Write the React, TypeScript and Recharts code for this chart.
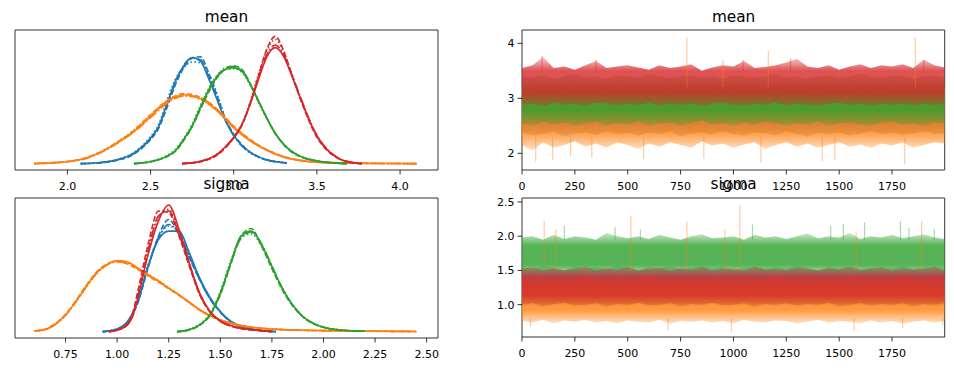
import React from "react";
import { LineChart, ComposedChart, Line, Area, XAxis, YAxis, CartesianGrid } from "recharts";

const FONT = "'DejaVu Sans', Verdana, sans-serif";
const BLUE = "#1f77b4";
const ORANGE = "#ff7f0e";
const GREEN = "#2ca02c";
const RED = "#d62728";

// solid, dashed, dotted, dash-dot (one per chain)
const CHAIN_DASH = [undefined, "5.5 2.4", "1.5 2.5", "9.6 2.4 1.5 2.4"];

// ---------- tick labels ----------
const meanXTicks = [2.0, 2.5, 3.0, 3.5, 4.0];
const sigmaXTicks = [0.75, 1.0, 1.25, 1.5, 1.75, 2.0, 2.25, 2.5];
const drawTicks = [0, 250, 500, 750, 1000, 1250, 1500, 1750];
const meanTraceTicks = [2, 3, 4];
const sigmaTraceTicks = [1.0, 1.5, 2.0, 2.5];

// ---------- KDE: mean ----------
const blueMeanX = [2.08, 2.2, 2.3, 2.4, 2.45, 2.5, 2.55, 2.6, 2.65, 2.7, 2.75, 2.8, 2.85, 2.9, 2.95, 3.0, 3.05, 3.1, 3.15, 3.2, 3.32];
const blueMeanKde = [
  [0, 0.03, 0.1, 0.28, 0.45, 0.68, 1.0, 1.6, 2.2, 2.6, 2.82, 2.72, 2.25, 1.7, 1.15, 0.75, 0.48, 0.3, 0.18, 0.1, 0.02],
  [0, 0.02, 0.09, 0.25, 0.42, 0.64, 0.95, 1.5, 2.1, 2.55, 2.8, 2.84, 2.4, 1.8, 1.2, 0.78, 0.5, 0.3, 0.17, 0.09, 0.02],
  [0, 0.03, 0.11, 0.3, 0.48, 0.72, 1.05, 1.7, 2.25, 2.55, 2.7, 2.68, 2.4, 1.85, 1.2, 0.78, 0.46, 0.28, 0.17, 0.1, 0.02],
  [0, 0.03, 0.1, 0.27, 0.44, 0.66, 1.0, 1.6, 2.15, 2.62, 2.8, 2.76, 2.3, 1.72, 1.15, 0.74, 0.47, 0.3, 0.18, 0.1, 0.02],
];
const orangeMeanX = [1.8, 1.9, 2.0, 2.1, 2.2, 2.3, 2.4, 2.5, 2.6, 2.7, 2.8, 2.9, 3.0, 3.1, 3.2, 3.3, 3.4, 3.5, 3.7, 3.9, 4.1];
const orangeMeanKde = [
  [0, 0.02, 0.05, 0.13, 0.3, 0.55, 0.85, 1.25, 1.65, 1.83, 1.72, 1.4, 0.95, 0.6, 0.35, 0.17, 0.08, 0.04, 0.01, 0.005, 0],
  [0, 0.02, 0.06, 0.14, 0.31, 0.57, 0.88, 1.3, 1.68, 1.86, 1.76, 1.45, 1.0, 0.64, 0.37, 0.19, 0.09, 0.04, 0.01, 0.005, 0],
  [0.01, 0.02, 0.05, 0.14, 0.32, 0.58, 0.9, 1.3, 1.66, 1.8, 1.7, 1.42, 0.98, 0.62, 0.36, 0.18, 0.08, 0.04, 0.01, 0.005, 0],
  [0, 0.02, 0.05, 0.12, 0.29, 0.54, 0.84, 1.22, 1.6, 1.8, 1.74, 1.44, 0.98, 0.62, 0.36, 0.18, 0.09, 0.05, 0.02, 0.005, 0],
];
const greenMeanX = [2.4, 2.5, 2.6, 2.65, 2.7, 2.75, 2.8, 2.85, 2.9, 2.95, 3.0, 3.05, 3.1, 3.15, 3.2, 3.25, 3.3, 3.35, 3.4, 3.5, 3.6, 3.68];
const greenMeanKde = [
  [0, 0.05, 0.2, 0.35, 0.65, 1.0, 1.5, 1.95, 2.3, 2.5, 2.55, 2.45, 2.1, 1.65, 1.2, 0.8, 0.52, 0.32, 0.2, 0.07, 0.02, 0],
  [0, 0.05, 0.19, 0.33, 0.62, 0.98, 1.45, 1.9, 2.28, 2.52, 2.6, 2.5, 2.12, 1.66, 1.2, 0.8, 0.5, 0.3, 0.18, 0.07, 0.02, 0],
  [0.01, 0.06, 0.22, 0.38, 0.68, 1.05, 1.55, 2.0, 2.35, 2.5, 2.52, 2.42, 2.08, 1.62, 1.18, 0.8, 0.52, 0.33, 0.2, 0.08, 0.02, 0],
  [0, 0.05, 0.2, 0.35, 0.64, 0.99, 1.48, 1.96, 2.32, 2.55, 2.58, 2.47, 2.1, 1.64, 1.2, 0.8, 0.51, 0.32, 0.19, 0.07, 0.02, 0],
];
const redMeanX = [2.69, 2.8, 2.9, 2.95, 3.0, 3.05, 3.1, 3.15, 3.2, 3.25, 3.3, 3.35, 3.4, 3.45, 3.5, 3.55, 3.6, 3.65, 3.7, 3.77];
const redMeanKde = [
  [0, 0.06, 0.25, 0.45, 0.7, 1.05, 1.6, 2.25, 2.85, 3.08, 2.85, 2.32, 1.75, 1.2, 0.74, 0.43, 0.23, 0.1, 0.04, 0],
  [0, 0.05, 0.23, 0.42, 0.68, 1.02, 1.62, 2.35, 3.05, 3.38, 3.0, 2.35, 1.72, 1.16, 0.7, 0.4, 0.21, 0.09, 0.03, 0],
  [0, 0.06, 0.25, 0.44, 0.7, 1.06, 1.66, 2.4, 3.0, 3.3, 2.95, 2.38, 1.76, 1.2, 0.72, 0.42, 0.22, 0.1, 0.04, 0],
  [0, 0.06, 0.24, 0.44, 0.69, 1.04, 1.6, 2.3, 2.9, 3.15, 2.9, 2.36, 1.78, 1.22, 0.75, 0.44, 0.23, 0.1, 0.04, 0],
];

// ---------- KDE: sigma ----------
const blueSigmaX = [0.93, 1.0, 1.05, 1.1, 1.15, 1.2, 1.25, 1.3, 1.35, 1.4, 1.45, 1.5, 1.55, 1.6, 1.65, 1.7, 1.77];
const blueSigmaKde = [
  [0, 0.08, 0.3, 0.9, 1.95, 2.75, 3.0, 3.0, 2.35, 1.6, 1.02, 0.6, 0.31, 0.16, 0.08, 0.03, 0],
  [0, 0.07, 0.27, 0.85, 1.9, 2.85, 3.35, 2.88, 2.2, 1.55, 0.98, 0.58, 0.3, 0.15, 0.08, 0.03, 0],
  [0, 0.08, 0.3, 0.92, 2.0, 2.8, 3.15, 2.98, 2.25, 1.57, 1.0, 0.6, 0.31, 0.16, 0.08, 0.03, 0],
  [0, 0.08, 0.29, 0.88, 1.95, 2.8, 3.2, 2.92, 2.25, 1.55, 0.98, 0.58, 0.3, 0.15, 0.08, 0.03, 0],
];
const orangeSigmaX = [0.6, 0.65, 0.7, 0.75, 0.8, 0.85, 0.9, 0.95, 1.0, 1.05, 1.1, 1.15, 1.2, 1.25, 1.3, 1.35, 1.4, 1.45, 1.5, 1.6, 1.7, 1.8, 1.9, 2.0, 2.2, 2.45];
const orangeSigmaKde = [
  [0.02, 0.06, 0.22, 0.5, 0.9, 1.35, 1.75, 2.0, 2.12, 2.08, 1.9, 1.7, 1.52, 1.3, 1.1, 0.88, 0.65, 0.48, 0.35, 0.18, 0.1, 0.06, 0.04, 0.03, 0.015, 0.005],
  [0.02, 0.07, 0.24, 0.52, 0.93, 1.38, 1.78, 2.02, 2.1, 2.02, 1.85, 1.66, 1.48, 1.28, 1.08, 0.86, 0.64, 0.47, 0.34, 0.18, 0.1, 0.06, 0.04, 0.03, 0.015, 0.005],
  [0.02, 0.06, 0.22, 0.48, 0.88, 1.32, 1.72, 1.98, 2.1, 2.06, 1.9, 1.72, 1.53, 1.32, 1.1, 0.88, 0.66, 0.49, 0.36, 0.19, 0.1, 0.06, 0.04, 0.03, 0.015, 0.005],
  [0.02, 0.06, 0.21, 0.49, 0.89, 1.33, 1.74, 1.99, 2.08, 2.04, 1.88, 1.68, 1.5, 1.3, 1.1, 0.87, 0.65, 0.48, 0.35, 0.18, 0.1, 0.06, 0.04, 0.03, 0.015, 0.005],
];
const greenSigmaX = [1.29, 1.35, 1.4, 1.45, 1.5, 1.55, 1.6, 1.65, 1.7, 1.75, 1.8, 1.85, 1.9, 1.95, 2.0, 2.1, 2.2];
const greenSigmaKde = [
  [0, 0.06, 0.2, 0.5, 1.15, 2.05, 2.85, 3.0, 2.6, 1.95, 1.3, 0.8, 0.45, 0.25, 0.13, 0.04, 0.01],
  [0, 0.05, 0.19, 0.48, 1.1, 2.0, 2.85, 3.08, 2.55, 1.88, 1.25, 0.77, 0.44, 0.24, 0.13, 0.04, 0.01],
  [0, 0.07, 0.22, 0.54, 1.2, 2.1, 2.8, 2.92, 2.55, 1.92, 1.3, 0.8, 0.46, 0.25, 0.13, 0.04, 0.01],
  [0, 0.06, 0.2, 0.5, 1.14, 2.02, 2.78, 2.98, 2.62, 1.96, 1.3, 0.8, 0.45, 0.25, 0.13, 0.04, 0.01],
];
const redSigmaX = [0.96, 1.0, 1.05, 1.075, 1.1, 1.15, 1.2, 1.25, 1.3, 1.35, 1.4, 1.45, 1.5, 1.55, 1.6, 1.7, 1.75];
const redSigmaKde = [
  [0, 0.04, 0.2, 0.45, 1.0, 2.3, 3.3, 3.78, 3.05, 2.05, 1.15, 0.6, 0.32, 0.18, 0.1, 0.03, 0],
  [0, 0.05, 0.24, 0.55, 1.2, 2.6, 3.6, 3.55, 2.85, 1.95, 1.1, 0.58, 0.31, 0.17, 0.09, 0.03, 0],
  [0, 0.04, 0.22, 0.5, 1.1, 2.45, 3.4, 3.65, 2.95, 2.0, 1.12, 0.6, 0.32, 0.18, 0.1, 0.03, 0],
  [0, 0.04, 0.21, 0.48, 1.05, 2.4, 3.45, 3.6, 2.9, 2.0, 1.13, 0.6, 0.31, 0.17, 0.1, 0.03, 0],
];

// ---------- traces: envelope of the draws every 50 draws ----------
const draws = [
  0, 50, 100, 150, 200, 250, 300, 350, 400, 450,
  500, 550, 600, 650, 700, 750, 800, 850, 900, 950,
  1000, 1050, 1100, 1150, 1200, 1250, 1300, 1350, 1400, 1450,
  1500, 1550, 1600, 1650, 1700, 1750, 1800, 1850, 1900, 1950, 1999,
];

const blueMeanHi = [
  3.15, 3.12, 3.18, 3.15, 3.1, 3.16, 3.14, 3.18, 3.12, 3.15,
  3.17, 3.13, 3.15, 3.18, 3.12, 3.15, 3.14, 3.16, 3.12, 3.15,
  3.18, 3.13, 3.15, 3.16, 3.12, 3.15, 3.17, 3.14, 3.12, 3.16,
  3.15, 3.13, 3.18, 3.15, 3.12, 3.16, 3.14, 3.15, 3.17, 3.13, 3.15,
];
const blueMeanLo = [
  2.38, 2.32, 2.35, 2.4, 2.3, 2.36, 2.38, 2.33, 2.4, 2.35,
  2.37, 2.32, 2.38, 2.35, 2.4, 2.3, 2.36, 2.38, 2.34, 2.4,
  2.35, 2.32, 2.38, 2.36, 2.33, 2.4, 2.35, 2.3, 2.37, 2.35,
  2.38, 2.32, 2.36, 2.4, 2.35, 2.38, 2.33, 2.36, 2.4, 2.35, 2.37,
];
const orangeMeanHi = [
  3.25, 3.2, 3.3, 3.22, 3.25, 3.2, 3.28, 3.22, 3.25, 3.2,
  3.24, 3.3, 3.22, 3.25, 3.2, 3.26, 3.22, 3.25, 3.3, 3.2,
  3.24, 3.22, 3.26, 3.2, 3.25, 3.22, 3.28, 3.2, 3.25, 3.22,
  3.24, 3.2, 3.26, 3.22, 3.25, 3.2, 3.24, 3.28, 3.22, 3.25, 3.2,
];
const orangeMeanLo = [
  2.15, 2.05, 2.2, 2.1, 2.15, 2.22, 2.12, 2.18, 2.1, 2.2,
  2.15, 2.08, 2.18, 2.12, 2.2, 2.15, 2.1, 2.22, 2.14, 2.18,
  2.1, 2.16, 2.2, 2.08, 2.15, 2.2, 2.12, 2.18, 2.1, 2.15,
  2.2, 2.12, 2.16, 2.1, 2.18, 2.14, 2.2, 2.1, 2.15, 2.2, 2.18,
];
const greenMeanHi = [
  3.4, 3.38, 3.42, 3.36, 3.4, 3.45, 3.38, 3.4, 3.36, 3.42,
  3.4, 3.38, 3.44, 3.4, 3.37, 3.4, 3.42, 3.38, 3.4, 3.36,
  3.42, 3.4, 3.38, 3.4, 3.44, 3.38, 3.4, 3.36, 3.4, 3.42,
  3.38, 3.4, 3.45, 3.4, 3.38, 3.42, 3.4, 3.36, 3.4, 3.42, 3.38,
];
const greenMeanLo = [
  2.55, 2.5, 2.58, 2.52, 2.56, 2.5, 2.54, 2.58, 2.5, 2.55,
  2.52, 2.58, 2.5, 2.54, 2.56, 2.5, 2.55, 2.6, 2.52, 2.55,
  2.5, 2.56, 2.52, 2.58, 2.54, 2.5, 2.55, 2.52, 2.58, 2.5,
  2.54, 2.56, 2.52, 2.5, 2.55, 2.58, 2.52, 2.54, 2.5, 2.56, 2.55,
];
const redMeanHi = [
  3.55, 3.6, 3.75, 3.55, 3.58, 3.52, 3.6, 3.68, 3.55, 3.58,
  3.6, 3.56, 3.52, 3.6, 3.55, 3.58, 3.62, 3.5, 3.56, 3.6,
  3.58, 3.68, 3.55, 3.57, 3.6, 3.65, 3.72, 3.58, 3.55, 3.6,
  3.52, 3.58, 3.62, 3.55, 3.6, 3.58, 3.62, 3.55, 3.7, 3.6, 3.56,
];
const redMeanLo = [
  2.88, 2.9, 2.85, 2.92, 2.88, 2.9, 2.86, 2.92, 2.9, 2.87,
  2.9, 2.88, 2.92, 2.86, 2.9, 2.88, 2.9, 2.85, 2.9, 2.92,
  2.88, 2.86, 2.9, 2.88, 2.92, 2.87, 2.9, 2.88, 2.86, 2.9,
  2.92, 2.88, 2.9, 2.86, 2.9, 2.88, 2.9, 2.87, 2.9, 2.88, 2.9,
];

const blueSigmaHi = [
  1.55, 1.52, 1.57, 1.54, 1.5, 1.56, 1.53, 1.55, 1.52, 1.57,
  1.54, 1.5, 1.55, 1.53, 1.56, 1.52, 1.54, 1.57, 1.53, 1.55,
  1.5, 1.54, 1.56, 1.52, 1.55, 1.53, 1.57, 1.54, 1.5, 1.55,
  1.53, 1.56, 1.52, 1.54, 1.55, 1.53, 1.57, 1.52, 1.54, 1.56, 1.53,
];
const blueSigmaLo = [
  0.98, 1.0, 0.96, 0.99, 1.01, 0.97, 0.98, 1.0, 0.96, 0.99,
  0.98, 1.01, 0.97, 0.98, 1.0, 0.96, 0.99, 0.98, 1.01, 0.97,
  0.98, 1.0, 0.96, 0.99, 0.98, 1.0, 0.97, 0.99, 0.98, 1.01,
  0.96, 0.98, 1.0, 0.97, 0.99, 0.98, 1.0, 0.96, 0.99, 0.98, 1.0,
];
const orangeSigmaHi = [
  1.4, 1.38, 1.42, 1.36, 1.4, 1.38, 1.45, 1.4, 1.36, 1.42,
  1.38, 1.4, 1.44, 1.37, 1.4, 1.38, 1.42, 1.36, 1.4, 1.38,
  1.42, 1.4, 1.36, 1.38, 1.44, 1.4, 1.38, 1.42, 1.36, 1.4,
  1.38, 1.4, 1.42, 1.37, 1.4, 1.38, 1.44, 1.4, 1.38, 1.42, 1.4,
];
const orangeSigmaLo = [
  0.76, 0.74, 0.78, 0.73, 0.77, 0.75, 0.78, 0.74, 0.76, 0.73,
  0.77, 0.75, 0.74, 0.78, 0.72, 0.76, 0.75, 0.77, 0.74, 0.76,
  0.73, 0.78, 0.75, 0.74, 0.77, 0.76, 0.73, 0.75, 0.78, 0.74,
  0.76, 0.75, 0.73, 0.77, 0.74, 0.76, 0.72, 0.75, 0.77, 0.74, 0.76,
];
const greenSigmaHi = [
  1.98, 2.0, 1.95, 2.02, 1.96, 2.0, 1.98, 1.95, 2.05, 2.0,
  1.97, 2.0, 1.96, 2.02, 1.98, 1.95, 2.0, 2.03, 1.97, 1.98,
  2.0, 1.95, 2.02, 1.98, 2.0, 1.96, 2.0, 2.04, 1.97, 2.0,
  1.98, 2.05, 1.96, 2.0, 1.98, 2.02, 1.97, 2.0, 2.03, 1.98, 1.96,
];
const greenSigmaLo = [
  1.42, 1.4, 1.44, 1.41, 1.43, 1.4, 1.42, 1.44, 1.4, 1.43,
  1.41, 1.42, 1.44, 1.4, 1.42, 1.43, 1.41, 1.4, 1.44, 1.42,
  1.41, 1.43, 1.4, 1.42, 1.44, 1.41, 1.42, 1.4, 1.43, 1.42,
  1.41, 1.44, 1.4, 1.42, 1.43, 1.41, 1.42, 1.4, 1.44, 1.42, 1.41,
];
const redSigmaHi = [
  1.52, 1.55, 1.5, 1.53, 1.5, 1.52, 1.56, 1.5, 1.53, 1.51,
  1.55, 1.5, 1.52, 1.54, 1.5, 1.53, 1.51, 1.55, 1.5, 1.52,
  1.53, 1.5, 1.55, 1.51, 1.52, 1.5, 1.54, 1.52, 1.5, 1.53,
  1.51, 1.55, 1.5, 1.52, 1.54, 1.5, 1.53, 1.51, 1.52, 1.55, 1.5,
];
const redSigmaLo = [
  1.0, 1.02, 0.98, 1.01, 1.03, 0.99, 1.0, 1.02, 0.98, 1.01,
  1.0, 1.03, 0.99, 1.0, 1.02, 0.98, 1.01, 1.0, 1.03, 0.99,
  1.0, 1.02, 0.98, 1.01, 1.0, 1.02, 0.99, 1.01, 1.0, 1.03,
  0.98, 1.0, 1.02, 0.99, 1.01, 1.0, 1.02, 0.98, 1.01, 1.0, 1.02,
];

// ---------- isolated outlying draws (spikes) ----------
const orangeMeanSpikeT = [65, 145, 230, 330, 575, 780, 860, 950, 1130, 1165, 1420, 1480, 1810, 1860];
const orangeMeanSpikeFrom = [2.3, 2.3, 2.3, 2.3, 2.3, 3.2, 2.3, 3.2, 2.3, 3.2, 2.3, 2.3, 2.3, 3.2];
const orangeMeanSpikeTo = [1.85, 1.88, 1.95, 1.92, 1.9, 4.1, 1.9, 3.7, 1.83, 3.87, 1.86, 1.88, 1.8, 4.1];
const redMeanSpikeT = [95, 350, 1045, 1270, 1900];
const redMeanSpikeFrom = [3.5, 3.5, 3.5, 3.5, 3.5];
const redMeanSpikeTo = [3.77, 3.7, 3.7, 3.72, 3.7];

const orangeSigmaSpikeT = [40, 105, 160, 515, 690, 780, 960, 990, 1030, 1570, 1580, 1800, 1890, 1990];
const orangeSigmaSpikeFrom = [0.8, 1.5, 1.5, 1.5, 0.8, 1.5, 1.5, 0.8, 1.5, 0.8, 1.5, 0.8, 1.5, 0.8];
const orangeSigmaSpikeTo = [0.68, 2.22, 2.1, 2.3, 0.63, 2.22, 2.1, 0.6, 2.45, 0.62, 2.07, 0.66, 2.22, 0.7];
const greenSigmaSpikeT = [200, 440, 560, 1090, 1460, 1520, 1620, 1790, 1830, 1950];
const greenSigmaSpikeFrom = [1.95, 1.95, 1.95, 1.95, 1.95, 1.95, 1.95, 1.95, 1.95, 1.95];
const greenSigmaSpikeTo = [2.15, 2.13, 2.1, 2.17, 2.15, 2.18, 2.2, 2.22, 2.12, 2.1];

// ---------- helpers ----------
type Kde = { color: string; xs: number[]; chains: number[][] };
type Band = { key: string; color: string; hi: number[]; lo: number[] };
type Spikes = { color: string; t: number[]; from: number[]; to: number[] };

const tickStyle = { fill: "#000", fontSize: 11, fontFamily: FONT };
const frameLine = { stroke: "#000", strokeWidth: 0.8 };

const spikeRows = (s: Spikes) =>
  s.t.flatMap((t, i) => [
    { t, v: s.from[i] },
    { t, v: s.to[i] },
    { t: t + 0.5, v: null },
  ]);

// axes box: lines at the plot area's edges
const frameH = ({ offset }: any) => [offset.top, offset.top + offset.height];
const frameV = ({ offset }: any) => [offset.left, offset.left + offset.width];
const Frame = () => (
  <CartesianGrid
    stroke="#000"
    strokeWidth={0.8}
    strokeOpacity={1}
    horizontalCoordinatesGenerator={frameH}
    verticalCoordinatesGenerator={frameV}
  />
);

const Title = ({ text, left, width, baseline }: { text: string; left: number; width: number; baseline: number }) => (
  <div
    style={{
      position: "absolute",
      left,
      width,
      top: baseline - 12.94,
      fontSize: 15.3,
      lineHeight: "15.3px",
      textAlign: "center",
      fontFamily: FONT,
      color: "#000",
      whiteSpace: "nowrap",
    }}
  >
    {text}
  </div>
);

const M = { top: 10, right: 10, bottom: 0, left: 10 };
const XH = 28;

function KdePanel(props: {
  plotLeft: number; plotTop: number; plotW: number; plotH: number;
  xDomain: [number, number]; xTicks: number[]; yDomain: [number, number];
  fmt: (v: number) => string; curves: Kde[];
}) {
  const { plotLeft, plotTop, plotW, plotH, xDomain, xTicks, yDomain, fmt, curves } = props;
  return (
    <div style={{ position: "absolute", left: plotLeft - M.left, top: plotTop - M.top }}>
      <LineChart width={M.left + plotW + M.right} height={M.top + plotH + XH} margin={M}>
        <Frame />
        <XAxis dataKey="x" type="number" domain={xDomain} ticks={xTicks} interval={0}
          allowDataOverflow tickFormatter={fmt} tick={tickStyle} tickLine={frameLine} axisLine={false}
          tickSize={4.5} tickMargin={7.7} height={XH} />
        <YAxis type="number" domain={yDomain} allowDataOverflow hide width={0} />
        {curves.flatMap((c, ci) =>
          c.chains.map((ys, k) => (
            <Line
              key={`${ci}-${k}`}
              data={c.xs.map((x, i) => ({ x, d: ys[i] }))}
              dataKey="d"
              type="monotone"
              stroke={c.color}
              strokeWidth={1.6}
              strokeDasharray={CHAIN_DASH[k]}
              dot={false}
              activeDot={false}
              isAnimationActive={false}
            />
          ))
        )}
      </LineChart>
    </div>
  );
}

function TracePanel(props: {
  id: string; plotLeft: number; plotTop: number; plotW: number; plotH: number;
  yDomain: [number, number]; yTicks: number[]; fmt: (v: number) => string;
  bands: Band[]; spikes: Spikes[];
}) {
  const { id, plotLeft, plotTop, plotW, plotH, yDomain, yTicks, fmt, bands, spikes } = props;
  const YW = 40;
  const rows = draws.map((t, i) => {
    const r: Record<string, unknown> = { t };
    bands.forEach((b) => (r[b.key] = [b.lo[i], b.hi[i]]));
    return r;
  });
  return (
    <div style={{ position: "absolute", left: plotLeft - M.left - YW, top: plotTop - M.top }}>
      <ComposedChart width={M.left + YW + plotW + M.right} height={M.top + plotH + XH} margin={M} data={rows}>
        <defs>
          {bands.map((b) => (
            <linearGradient key={b.key} id={`${id}-${b.key}`} x1="0" y1="0" x2="0" y2="1">
              <stop offset="0%" stopColor={b.color} stopOpacity={0.22} />
              <stop offset="28%" stopColor={b.color} stopOpacity={0.8} />
              <stop offset="72%" stopColor={b.color} stopOpacity={0.8} />
              <stop offset="100%" stopColor={b.color} stopOpacity={0.22} />
            </linearGradient>
          ))}
        </defs>
        <XAxis dataKey="t" type="number" domain={[0, 1999]} ticks={drawTicks} interval={0}
          allowDataOverflow tick={tickStyle} tickLine={frameLine} axisLine={false}
          tickSize={4.5} tickMargin={7.7} height={XH} />
        <YAxis type="number" domain={yDomain} ticks={yTicks} interval={0} allowDataOverflow
          tickFormatter={fmt} tick={tickStyle} tickLine={frameLine} axisLine={false}
          tickSize={4.5} tickMargin={3} width={YW} />
        {bands.map((b) => (
          <Area
            key={b.key}
            dataKey={b.key}
            type="linear"
            stroke="none"
            fill={`url(#${id}-${b.key})`}
            fillOpacity={1}
            dot={false}
            activeDot={false}
            isAnimationActive={false}
          />
        ))}
        {spikes.map((s, i) => (
          <Line
            key={`sp${i}`}
            data={spikeRows(s)}
            dataKey="v"
            type="linear"
            stroke={s.color}
            strokeOpacity={0.4}
            strokeWidth={1.2}
            dot={false}
            activeDot={false}
            isAnimationActive={false}
          />
        ))}
        <Frame />
      </ComposedChart>
    </div>
  );
}

export default function App() {
  return (
    <div style={{ position: "absolute", left: 0, top: 0, width: 954, height: 372, background: "#fff", fontFamily: FONT }}>
      <Title text="mean" left={15} width={423} baseline={22.5} />
      <Title text="mean" left={522.3} width={422.7} baseline={22.5} />
      <KdePanel
        plotLeft={15} plotTop={30} plotW={423} plotH={140}
        xDomain={[1.685, 4.228]} xTicks={meanXTicks} yDomain={[-0.169, 3.549]}
        fmt={(v) => v.toFixed(1)}
        curves={[
          { color: BLUE, xs: blueMeanX, chains: blueMeanKde },
          { color: ORANGE, xs: orangeMeanX, chains: orangeMeanKde },
          { color: GREEN, xs: greenMeanX, chains: greenMeanKde },
          { color: RED, xs: redMeanX, chains: redMeanKde },
        ]}
      />
      <TracePanel
        id="tm" plotLeft={522.3} plotTop={30} plotW={422.7} plotH={140}
        yDomain={[1.696, 4.242]} yTicks={meanTraceTicks} fmt={(v) => String(v)}
        bands={[
          { key: "blue", color: BLUE, hi: blueMeanHi, lo: blueMeanLo },
          { key: "orange", color: ORANGE, hi: orangeMeanHi, lo: orangeMeanLo },
          { key: "green", color: GREEN, hi: greenMeanHi, lo: greenMeanLo },
          { key: "red", color: RED, hi: redMeanHi, lo: redMeanLo },
        ]}
        spikes={[
          { color: ORANGE, t: orangeMeanSpikeT, from: orangeMeanSpikeFrom, to: orangeMeanSpikeTo },
          { color: RED, t: redMeanSpikeT, from: redMeanSpikeFrom, to: redMeanSpikeTo },
        ]}
      />
      <Title text="sigma" left={15} width={423} baseline={190} />
      <Title text="sigma" left={522.3} width={422.7} baseline={190} />
      <KdePanel
        plotLeft={15} plotTop={198.3} plotW={423} plotH={140}
        xDomain={[0.505, 2.555]} xTicks={sigmaXTicks} yDomain={[-0.19, 3.99]}
        fmt={(v) => v.toFixed(2)}
        curves={[
          { color: BLUE, xs: blueSigmaX, chains: blueSigmaKde },
          { color: ORANGE, xs: orangeSigmaX, chains: orangeSigmaKde },
          { color: GREEN, xs: greenSigmaX, chains: greenSigmaKde },
          { color: RED, xs: redSigmaX, chains: redSigmaKde },
        ]}
      />
      <TracePanel
        id="ts" plotLeft={522.3} plotTop={198.3} plotW={422.7} plotH={139}
        yDomain={[0.528, 2.558]} yTicks={sigmaTraceTicks} fmt={(v) => v.toFixed(1)}
        bands={[
          { key: "blue", color: BLUE, hi: blueSigmaHi, lo: blueSigmaLo },
          { key: "orange", color: ORANGE, hi: orangeSigmaHi, lo: orangeSigmaLo },
          { key: "green", color: GREEN, hi: greenSigmaHi, lo: greenSigmaLo },
          { key: "red", color: RED, hi: redSigmaHi, lo: redSigmaLo },
        ]}
        spikes={[
          { color: ORANGE, t: orangeSigmaSpikeT, from: orangeSigmaSpikeFrom, to: orangeSigmaSpikeTo },
          { color: GREEN, t: greenSigmaSpikeT, from: greenSigmaSpikeFrom, to: greenSigmaSpikeTo },
        ]}
      />
    </div>
  );
}
